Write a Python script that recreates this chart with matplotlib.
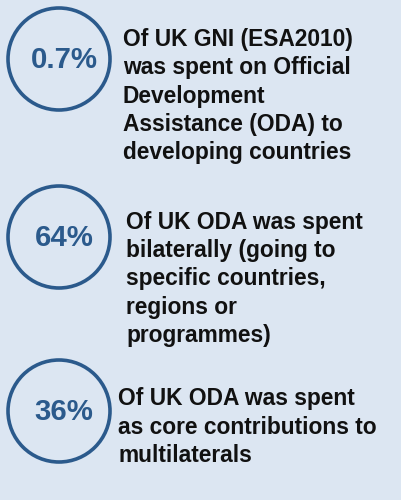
import matplotlib
matplotlib.use("Agg")
import matplotlib.pyplot as plt
from matplotlib.patches import Circle

# Data
values = ["0.7%", "64%", "36%"]
descriptions = [
    "Of UK GNI (ESA2010)\nwas spent on Official\nDevelopment\nAssistance (ODA) to\ndeveloping countries",
    "Of UK ODA was spent\nbilaterally (going to\nspecific countries,\nregions or\nprogrammes)",
    "Of UK ODA was spent\nas core contributions to\nmultilaterals",
]

# Layout
W, H = 401, 500
circle_cy = [59, 237, 411]
circle_cx = 59
radius = 51
text_x = [123, 126, 118]
text_cy = [96, 279, 427]
num_x = 64

bg = "#DCE6F2"
blue = "#2B5A8C"

fig = plt.figure(figsize=(W / 100, H / 100), dpi=100)
fig.patch.set_facecolor(bg)
ax = fig.add_axes([0, 0, 1, 1])
ax.set_xlim(0, W)
ax.set_ylim(H, 0)
ax.set_aspect("equal")
ax.axis("off")
ax.set_facecolor(bg)

for val, desc, cy, tx, tcy in zip(values, descriptions, circle_cy, text_x, text_cy):
    ax.add_patch(Circle((circle_cx, cy), radius, fill=False, edgecolor=blue, linewidth=2.6))
    ax.text(num_x, cy + 1, val, ha="center", va="center", fontsize=21.2,
            fontweight="bold", color=blue, family="Liberation Sans")
    ax.text(tx, tcy, desc, ha="left", va="center", fontsize=16.4,
            fontweight="bold", color="#111111", family="Liberation Sans",
            linespacing=1.29)

fig.savefig("out.png", dpi=100, facecolor=bg)
